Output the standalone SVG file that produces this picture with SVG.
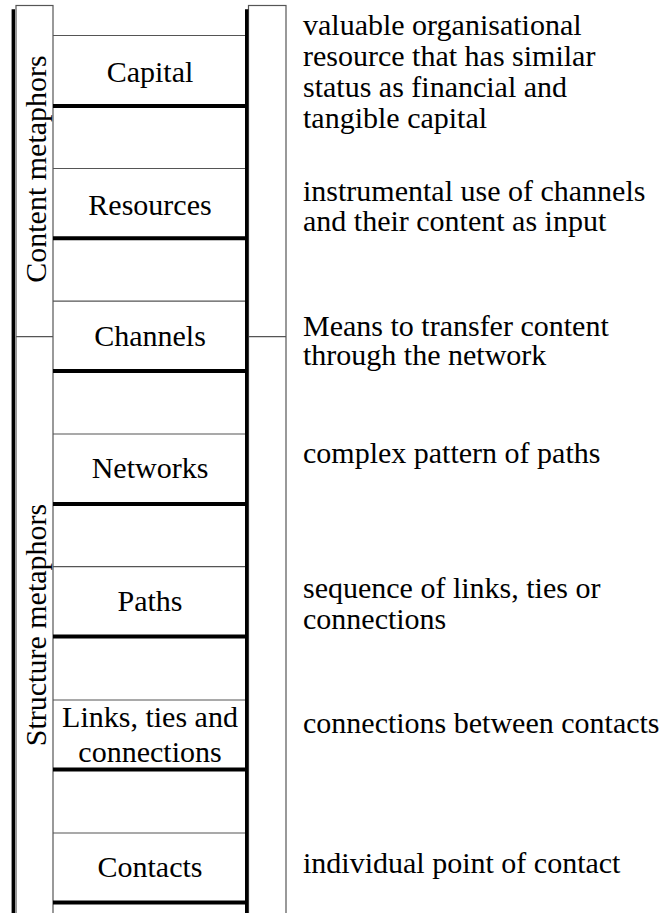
<svg xmlns="http://www.w3.org/2000/svg" width="664" height="913" viewBox="0 0 664 913">
<rect width="664" height="913" fill="#fff"/>
<g id="side-boxes" fill="none" stroke="#555" stroke-width="1.2">
<rect x="16" y="5.5" width="37" height="920"/>
<rect x="248.5" y="5.5" width="37.5" height="920"/>
<line x1="16" y1="336.7" x2="53" y2="336.7"/>
<line x1="248.5" y1="336.7" x2="286" y2="336.7"/>
</g>
<g id="connectors">
<g stroke="#000" stroke-width="3.4">
<line x1="13.3" y1="9.3" x2="13.3" y2="913"/>
<line x1="246.7" y1="9.3" x2="246.7" y2="913"/>
</g>
<g stroke="#555" stroke-width="1.2">
<line x1="53" y1="35.5" x2="245" y2="35.5"/>
<line x1="53" y1="168.5" x2="245" y2="168.5"/>
<line x1="53" y1="301.2" x2="245" y2="301.2"/>
<line x1="53" y1="434" x2="245" y2="434"/>
<line x1="53" y1="566.7" x2="245" y2="566.7"/>
<line x1="53" y1="700" x2="245" y2="700"/>
<line x1="53" y1="833" x2="245" y2="833"/>
</g>
<g stroke="#000" stroke-width="4">
<line x1="53" y1="106" x2="245" y2="106"/>
<line x1="53" y1="238.2" x2="245" y2="238.2"/>
<line x1="53" y1="371" x2="245" y2="371"/>
<line x1="53" y1="504" x2="245" y2="504"/>
<line x1="53" y1="636.5" x2="245" y2="636.5"/>
<line x1="53" y1="769.5" x2="245" y2="769.5"/>
<line x1="53" y1="902.5" x2="245" y2="902.5"/>
</g>
</g>
<g id="group-content">
<text font-family="Liberation Serif" font-size="30" text-anchor="middle" transform="translate(46,169) rotate(-90)">Content metaphors</text>
</g>
<g id="group-structure">
<text font-family="Liberation Serif" font-size="30" text-anchor="middle" transform="translate(46,625) rotate(-90)">Structure metaphors</text>
</g>
<g id="capital">
<text font-family="Liberation Serif" font-size="30" text-anchor="middle" x="150" y="81.7">Capital</text>
<text font-family="Liberation Serif" font-size="30" x="303" y="35">valuable organisational</text>
<text font-family="Liberation Serif" font-size="30" x="303" y="66">resource that has similar</text>
<text font-family="Liberation Serif" font-size="30" x="303" y="97">status as financial and</text>
<text font-family="Liberation Serif" font-size="30" x="303" y="128">tangible capital</text>
</g>
<g id="resources">
<text font-family="Liberation Serif" font-size="30" text-anchor="middle" x="150" y="214.5">Resources</text>
<text font-family="Liberation Serif" font-size="30" x="303" y="201">instrumental use of channels</text>
<text font-family="Liberation Serif" font-size="30" x="303" y="231">and their content as input</text>
</g>
<g id="channels">
<text font-family="Liberation Serif" font-size="30" text-anchor="middle" x="150" y="345.7">Channels</text>
<text font-family="Liberation Serif" font-size="30" x="303" y="335.5">Means to transfer content</text>
<text font-family="Liberation Serif" font-size="30" x="303" y="365">through the network</text>
</g>
<g id="networks">
<text font-family="Liberation Serif" font-size="30" text-anchor="middle" x="150" y="478.3">Networks</text>
<text font-family="Liberation Serif" font-size="30" x="303" y="463.3">complex pattern of paths</text>
</g>
<g id="paths">
<text font-family="Liberation Serif" font-size="30" text-anchor="middle" x="150" y="611">Paths</text>
<text font-family="Liberation Serif" font-size="30" x="303" y="598.3">sequence of links, ties or</text>
<text font-family="Liberation Serif" font-size="30" x="303" y="629.3">connections</text>
</g>
<g id="links">
<text font-family="Liberation Serif" font-size="30" text-anchor="middle" x="150" y="726.5">Links, ties and</text>
<text font-family="Liberation Serif" font-size="30" text-anchor="middle" x="150" y="761.5">connections</text>
<text font-family="Liberation Serif" font-size="30" x="303" y="732.7">connections between contacts</text>
</g>
<g id="contacts">
<text font-family="Liberation Serif" font-size="30" text-anchor="middle" x="150" y="876.7">Contacts</text>
<text font-family="Liberation Serif" font-size="30" x="303" y="872.7">individual point of contact</text>
</g>
</svg>
